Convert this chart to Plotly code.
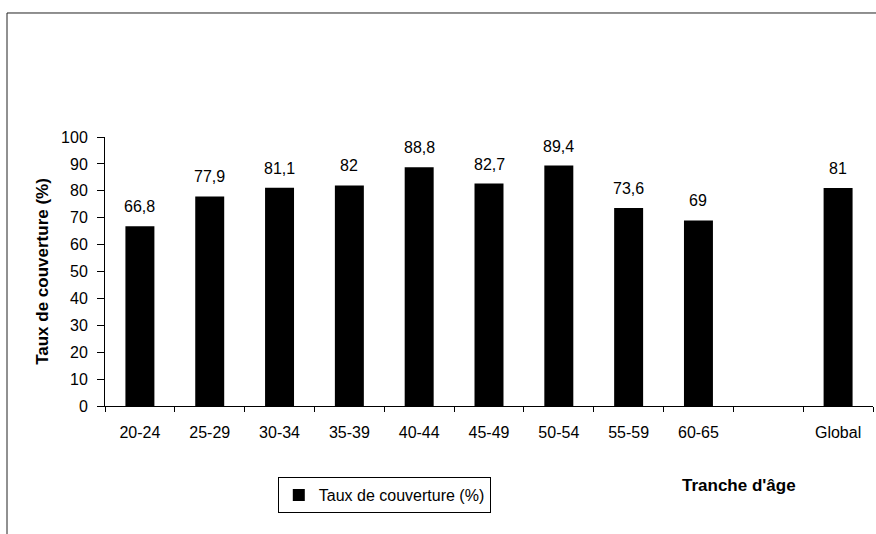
import plotly.graph_objects as go

categories = ["20-24", "25-29", "30-34", "35-39", "40-44", "45-49", "50-54", "55-59", "60-65", " ", "Global"]
values = [66.8, 77.9, 81.1, 82, 88.8, 82.7, 89.4, 73.6, 69, None, 81]
labels = ["66,8", "77,9", "81,1", "82", "88,8", "82,7", "89,4", "73,6", "69", "", "81"]
y_ticks = list(range(0, 101, 10))

FONT = "Liberation Sans, Arial, Helvetica, sans-serif"

fig = go.Figure()
fig.add_trace(go.Bar(
    x=categories, y=values, name="Taux de couverture (%)",
    marker=dict(color="black", line=dict(width=0)),
    showlegend=True,
))

for c, v, t in zip(categories, values, labels):
    if v is None:
        continue
    fig.add_annotation(x=c, y=v, text=t, showarrow=False, yanchor="bottom",
                       yshift=9, font=dict(family=FONT, size=16, color="black"))

fig.add_annotation(x=0.826, y=-0.297, xref="paper", yref="paper", text="<b>Tranche d'âge</b>",
                   showarrow=False, xanchor="center", yanchor="middle",
                   font=dict(family=FONT, size=17, color="black"))

# frame lines (left and top)
fig.add_shape(type="line", xref="paper", yref="paper", x0=-0.1276, x1=-0.1276, y0=1.461, y1=-0.6,
              line=dict(color="#222222", width=1))
fig.add_shape(type="line", xref="paper", yref="paper", x0=-0.1276, x1=1.05, y0=1.461, y1=1.461,
              line=dict(color="#222222", width=1))

fig.update_layout(
    width=876, height=534,
    margin=dict(l=105, r=3, t=137, b=128),
    paper_bgcolor="white", plot_bgcolor="white",
    bargap=0.585,
    font=dict(family=FONT, size=16, color="black"),
    showlegend=True,
    legend=dict(x=0.225, y=-0.264, xanchor="left", yanchor="top",
                bordercolor="black", borderwidth=1, bgcolor="white",
                font=dict(family=FONT, size=16, color="black"),
                itemwidth=30, tracegroupgap=0),
    xaxis=dict(
        type="category", categoryorder="array", categoryarray=categories,
        showline=True, linecolor="black", linewidth=1,
        ticks="outside", tickson="boundaries", ticklen=5, tickcolor="black",
        ticklabelstandoff=12, showgrid=False, zeroline=False,
        tickfont=dict(family=FONT, size=16, color="black"),
    ),
    yaxis=dict(
        range=[0, 100], tickvals=y_ticks, ticktext=[str(v) for v in y_ticks],
        showline=True, linecolor="black", linewidth=1,
        ticks="outside", ticklen=7, tickcolor="black", ticklabelstandoff=6,
        showgrid=False, zeroline=False,
        tickfont=dict(family=FONT, size=16, color="black"),
        title=dict(text="<b>Taux de couverture (%)</b>", standoff=8,
                   font=dict(family=FONT, size=17, color="black")),
    ),
)

fig.write_html("out.html", config={"displayModeBar": False},
               post_script="document.body.style.margin='0';document.body.style.overflow='hidden';")
